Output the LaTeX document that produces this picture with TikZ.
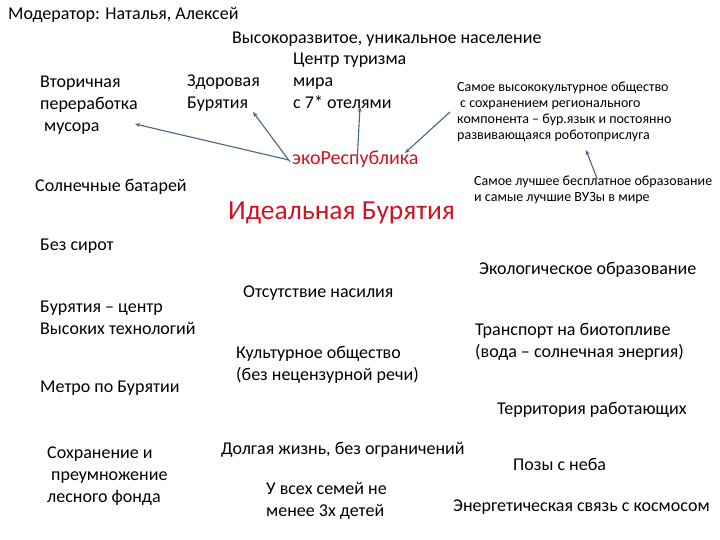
\documentclass[tikz,border=0pt]{standalone}
\usepackage{fontspec}
\setmainfont{Carlito}
\usetikzlibrary{arrows.meta}
\definecolor{linkblue}{RGB}{70,100,140}
\definecolor{ecored}{RGB}{205,20,35}

\begin{document}
\begin{tikzpicture}[x=1pt, y=-1pt, >={Stealth[length=5pt,width=4pt]}]
	\tikzstyle{every node}=[align=left, inner sep=0pt, anchor=base west, font=\fontsize{18}{22}\selectfont]
	\tikzstyle{small}=[font=\fontsize{14}{16.3}\selectfont]
	\tikzstyle{link}=[->, linkblue, line width=1.1pt]
	\useasboundingbox (0,0) rectangle (720,540);

	\node (moder) at (8,20) {Модератор: Наталья, Алексей};
	\node (naselenie) at (232,44) {Высокоразвитое, уникальное население};
	\node (turizm) at (293,109) {Центр туризма\\мира\\с 7* отелями};
	\node (musor) at (40,132) {Вторичная\\переработка\\\hspace{4pt}мусора};
	\node (zdorov) at (187,109) {Здоровая\\Бурятия};
	\node[small] (kultura) at (457,140) {Самое высококультурное общество\\\hspace{3pt}с сохранением регионального\\компонента – бур.язык и постоянно\\развивающаяся роботоприслуга};
	\node[text=ecored, font=\fontsize{20}{24}\selectfont] (eco) at (292,165) {экоРеспублика};
	\node (solnce) at (35,192) {Солнечные батарей};
	\node[text=ecored, font=\fontsize{27.5}{32}\selectfont] (ideal) at (228,220) {Идеальная Бурятия};
	\node[small] (obraz) at (474,202) {Самое лучшее бесплатное образование\\и самые лучшие ВУЗы в мире};
	\node (sirot) at (40,251) {Без сирот};
	\node (ekoobr) at (479,274) {Экологическое образование};
	\node (nasil) at (243,297) {Отсутствие насилия};
	\node (tehno) at (40,334) {Бурятия – центр\\Высоких технологий};
	\node (transp) at (475,357) {Транспорт на биотопливе\\(вода – солнечная энергия)};
	\node (kultobsh) at (236,380) {Культурное общество\\(без нецензурной речи)};
	\node (metro) at (40,392) {Метро по Бурятии};
	\node (territ) at (497,414) {Территория работающих};
	\node (les) at (47,502) {Сохранение и\\\hspace{4pt}преумножение\\лесного фонда};
	\node (zhizn) at (221,454) {Долгая жизнь, без ограничений};
	\node (pozy) at (513,470) {Позы с неба};
	\node (semi) at (266,516) {У всех семей не\\менее 3х детей};
	\node (kosmos) at (453,511) {Энергетическая связь с космосом};

	\coordinate (musortip) at (135,124);
	\coordinate (zdorovtip) at (253,112);
	\coordinate (otelitip) at (360,107);
	\coordinate (ecotip) at (405,153);
	\coordinate (kulturtip) at (586,150);

	\draw[link] ([xshift=-4pt]eco.west) to (musortip);
	\draw[link] ([xshift=-2pt,yshift=-2pt]eco.west) to (zdorovtip);
	\draw[link] ([xshift=2pt,yshift=-7pt]eco.north) to (otelitip);
	\draw[link] ([xshift=-7pt]kultura.west) to (ecotip);
	\draw[link] ([xshift=4pt,yshift=-3pt]obraz.north) to (kulturtip);

\end{tikzpicture}
\end{document}
